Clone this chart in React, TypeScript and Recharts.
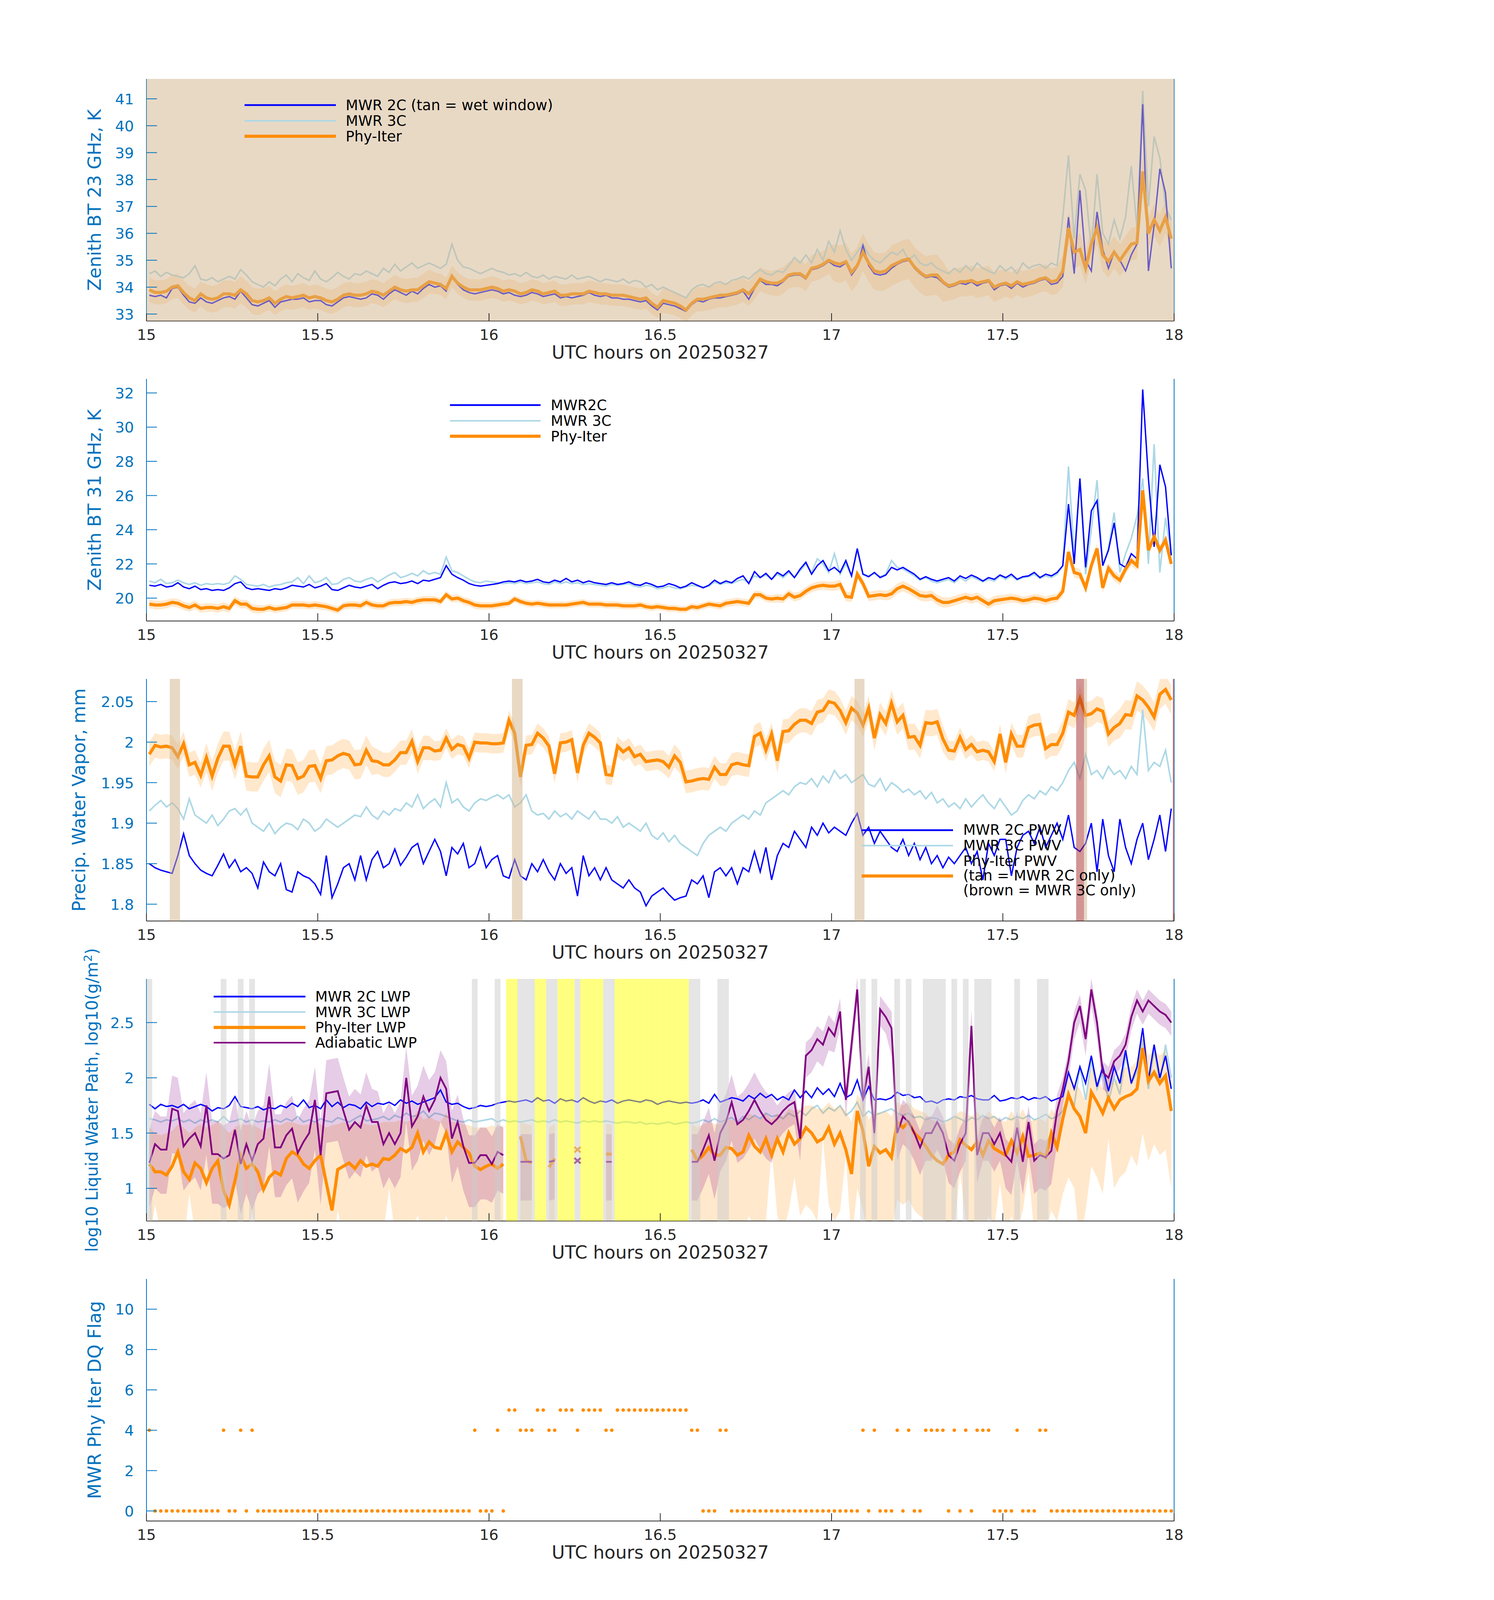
import React from 'react';
import { ComposedChart, Line, Area, XAxis, YAxis, ReferenceArea, ReferenceLine, Scatter } from 'recharts';

// ---------------- DATA (one value per minute, 15:00 .. 18:00 UTC) ----------------
const xTicks = [15, 15.5, 16, 16.5, 17, 17.5, 18];

// Panel 1: zenith BT 23 GHz (K)
const p1Ticks = [33, 34, 35, 36, 37, 38, 39, 40, 41];
const p1Phy = [
  33.9,33.8,33.8,33.85,34.0,34.05,33.8,33.6,33.5,33.75,
  33.6,33.55,33.6,33.75,33.75,33.7,33.9,33.75,33.5,33.45,
  33.5,33.6,33.4,33.55,33.65,33.6,33.65,33.7,33.6,33.65,
  33.6,33.5,33.45,33.55,33.7,33.75,33.7,33.7,33.75,33.85,
  33.8,33.7,33.85,34.0,33.9,33.85,33.9,33.9,34.05,34.2,
  34.15,34.1,33.95,34.4,34.15,34.0,33.9,33.9,33.9,33.95,
  34.0,33.95,33.85,33.9,33.85,33.75,33.8,33.9,33.85,33.75,
  33.8,33.85,33.7,33.7,33.75,33.75,33.75,33.85,33.8,33.75,
  33.75,33.7,33.7,33.7,33.65,33.6,33.55,33.6,33.4,33.25,
  33.5,33.45,33.4,33.3,33.15,33.4,33.55,33.55,33.6,33.65,
  33.7,33.7,33.75,33.8,33.9,33.75,34.0,34.3,34.2,34.15,
  34.15,34.25,34.45,34.5,34.5,34.35,34.7,34.75,34.85,35.0,
  34.9,34.85,34.95,34.55,34.8,35.3,34.9,34.6,34.55,34.6,
  34.8,34.9,35.0,35.05,34.75,34.55,34.4,34.45,34.45,34.2,
  34.05,34.1,34.2,34.2,34.25,34.15,34.2,34.25,34.0,34.1,
  34.15,34.05,34.2,34.1,34.15,34.2,34.3,34.35,34.2,34.25,
  34.6,36.2,35.3,35.4,34.7,35.6,36.2,35.2,34.95,35.3,
  35.0,35.3,35.6,35.65,38.3,36.0,36.5,36.1,36.6,35.8,
];
const p1M2 = [
  33.7,33.65,33.7,33.6,33.95,34.0,33.7,33.45,33.4,33.6,
  33.45,33.4,33.5,33.6,33.65,33.55,33.85,33.6,33.35,33.3,
  33.4,33.5,33.25,33.45,33.5,33.55,33.55,33.6,33.45,33.5,
  33.5,33.35,33.3,33.45,33.6,33.65,33.6,33.55,33.6,33.75,
  33.7,33.55,33.75,33.9,33.8,33.7,33.85,33.75,33.95,34.1,
  34.0,34.05,33.85,34.45,34.1,33.9,33.8,33.75,33.8,33.85,
  33.9,33.85,33.75,33.8,33.7,33.65,33.7,33.8,33.75,33.65,
  33.7,33.75,33.6,33.65,33.6,33.65,33.7,33.8,33.7,33.65,
  33.7,33.6,33.6,33.55,33.55,33.5,33.45,33.5,33.3,33.15,
  33.4,33.35,33.3,33.2,33.1,33.35,33.5,33.45,33.55,33.6,
  33.6,33.65,33.7,33.75,33.85,33.55,33.95,34.25,34.1,34.1,
  34.05,34.2,34.4,34.45,34.45,34.3,34.65,34.7,34.8,34.95,
  34.8,34.75,34.9,34.45,34.75,35.55,34.8,34.5,34.45,34.5,
  34.7,34.85,34.95,35.0,34.7,34.5,34.35,34.4,34.35,34.15,
  34.0,34.05,34.15,34.1,34.2,34.05,34.15,34.2,33.9,34.05,
  34.1,33.95,34.15,34.0,34.1,34.15,34.25,34.3,34.1,34.15,
  34.4,36.6,34.5,37.6,35.0,34.6,36.8,35.4,34.7,35.3,
  35.0,34.6,35.2,35.6,40.8,34.6,36.3,38.4,37.5,34.7,
];
const p1M3 = [
  34.5,34.6,34.4,34.55,34.45,34.4,34.35,34.5,34.8,34.3,
  34.25,34.35,34.2,34.3,34.4,34.3,34.65,34.45,34.2,34.1,
  34.0,34.2,34.05,34.3,34.45,34.2,34.5,34.35,34.25,34.6,
  34.3,34.2,34.35,34.55,34.4,34.3,34.5,34.45,34.6,34.5,
  34.4,34.7,34.55,34.85,34.6,34.75,34.9,34.7,34.8,34.9,
  34.8,34.7,34.85,35.6,35.0,34.75,34.7,34.6,34.5,34.6,
  34.7,34.6,34.55,34.45,34.5,34.4,34.55,34.4,34.35,34.45,
  34.3,34.4,34.35,34.3,34.45,34.3,34.35,34.4,34.3,34.2,
  34.3,34.25,34.2,34.3,34.15,34.25,34.2,34.0,34.1,33.9,
  34.0,33.9,33.8,33.7,33.6,33.9,34.05,34.1,34.0,34.15,
  34.2,34.1,34.25,34.3,34.4,34.3,34.5,34.65,34.5,34.45,
  34.6,34.55,34.8,35.1,34.9,35.2,34.9,35.4,35.0,35.7,
  35.3,36.1,35.4,35.0,35.3,35.6,35.2,35.0,34.9,35.1,
  35.3,35.2,35.4,35.0,35.2,34.9,34.8,34.9,34.7,34.6,
  34.5,34.7,34.55,34.8,34.6,34.9,34.7,34.6,34.5,34.8,
  34.6,34.75,34.5,34.9,34.7,34.8,34.85,34.7,34.9,34.8,
  36.6,38.9,35.8,38.2,37.6,35.4,38.2,36.0,35.6,36.5,
  35.8,36.6,38.5,36.2,41.3,37.0,39.6,38.8,37.0,36.5,
];
// Phy-Iter uncertainty, one value per 10 minutes
const p1Err = [0.45,0.5,0.45,0.45,0.45,0.4,0.4,0.4,0.4,0.45,0.45,0.5,0.7,0.75,0.55,0.5,0.6,0.6];

// Panel 2: zenith BT 31 GHz (K)
const p2Ticks = [20, 22, 24, 26, 28, 30, 32];
const p2Phy = [
  19.65,19.6,19.6,19.65,19.75,19.7,19.55,19.45,19.6,19.4,
  19.45,19.45,19.4,19.5,19.4,19.85,19.65,19.65,19.4,19.35,
  19.35,19.45,19.35,19.4,19.45,19.6,19.6,19.6,19.55,19.6,
  19.55,19.5,19.4,19.3,19.55,19.6,19.6,19.55,19.75,19.6,
  19.55,19.55,19.7,19.75,19.75,19.8,19.75,19.85,19.9,19.9,
  19.9,19.8,20.2,19.95,20.0,19.85,19.75,19.6,19.55,19.55,
  19.55,19.6,19.65,19.7,19.95,19.8,19.7,19.65,19.7,19.65,
  19.6,19.6,19.6,19.6,19.65,19.7,19.75,19.65,19.65,19.65,
  19.6,19.6,19.6,19.55,19.55,19.55,19.6,19.5,19.45,19.5,
  19.45,19.4,19.4,19.35,19.35,19.5,19.45,19.55,19.65,19.6,
  19.55,19.7,19.75,19.8,19.75,19.7,20.2,20.2,20.0,19.95,
  20.0,19.95,20.25,20.05,20.15,20.4,20.6,20.7,20.75,20.7,
  20.7,20.8,20.1,20.05,21.4,20.85,20.1,20.15,20.2,20.15,
  20.25,20.55,20.7,20.55,20.35,20.15,20.1,20.15,19.9,19.75,
  19.75,19.85,19.95,20.05,19.95,20.05,19.85,19.65,19.85,19.9,
  19.95,20.0,19.95,19.85,19.9,20.0,19.95,19.85,19.95,20.0,
  20.4,22.7,21.5,21.4,20.6,21.9,22.9,20.6,21.75,21.3,
  21.05,21.7,22.2,21.9,26.3,22.8,23.6,22.8,23.4,22.0,
];
const p2M2 = [
  20.75,20.7,20.8,20.65,20.7,20.9,20.65,20.55,20.7,20.5,
  20.55,20.45,20.5,20.45,20.6,20.85,20.95,20.6,20.5,20.55,
  20.5,20.45,20.55,20.5,20.6,20.75,20.7,20.65,20.8,20.6,
  20.7,20.85,20.5,20.45,20.6,20.75,20.65,20.6,20.7,20.8,
  20.55,20.75,20.9,20.95,20.85,20.9,21.0,20.85,21.05,21.0,
  21.1,21.2,21.9,21.4,21.2,21.05,20.85,20.75,20.7,20.75,
  20.8,20.85,20.95,21.0,20.95,21.05,20.95,21.0,21.1,20.95,
  20.9,21.05,20.95,21.15,20.95,21.05,20.9,21.0,20.9,20.85,
  20.8,20.9,20.8,20.85,20.95,20.8,20.75,20.9,20.8,20.65,
  20.7,20.85,20.75,20.6,20.7,20.9,20.75,20.6,20.75,21.05,
  20.85,21.0,20.9,21.15,21.3,20.85,21.55,21.2,21.45,21.1,
  21.5,21.3,21.6,21.2,21.7,22.1,21.4,21.9,22.2,21.6,
  21.8,21.5,22.2,21.3,22.9,21.4,21.25,21.5,21.2,21.35,
  21.8,21.65,21.8,21.6,21.4,21.1,21.25,21.1,21.0,21.1,
  21.2,21.0,21.3,21.15,21.35,21.2,21.0,21.2,21.1,21.35,
  21.2,21.4,21.1,21.25,21.3,21.5,21.2,21.4,21.3,21.5,
  21.9,25.5,22.0,27.0,21.8,25.1,25.7,21.9,22.8,24.4,
  22.0,21.8,22.6,22.3,32.2,27.0,23.0,27.8,26.5,22.5,
];
const p2M3 = [
  21.0,20.9,21.1,20.85,20.9,21.05,20.9,20.8,20.9,20.75,
  20.85,20.8,20.85,20.8,20.9,21.3,21.1,20.8,20.75,20.7,
  20.8,20.65,20.75,20.8,20.9,20.95,21.2,20.85,21.3,20.9,
  21.0,21.2,20.8,20.85,21.1,21.2,21.0,20.95,21.1,21.2,
  20.95,21.15,21.35,21.5,21.2,21.3,21.45,21.3,21.6,21.4,
  21.5,21.4,22.4,21.6,21.5,21.3,21.1,20.95,20.9,21.0,
  20.95,20.9,20.85,20.9,20.85,20.95,20.85,20.9,20.95,20.85,
  20.8,20.95,20.85,20.95,20.85,20.9,20.8,20.85,20.8,20.75,
  20.7,20.8,20.75,20.8,20.85,20.7,20.65,20.75,20.7,20.55,
  20.6,20.7,20.6,20.55,20.65,20.75,20.7,20.65,20.7,20.95,
  20.8,20.9,20.85,21.0,21.1,20.9,21.3,21.2,21.35,21.1,
  21.4,21.2,21.5,21.2,21.6,22.0,21.5,22.3,22.0,21.5,
  22.6,21.4,22.0,21.3,22.8,21.4,21.3,21.45,21.25,21.4,
  22.2,21.8,21.7,21.5,21.3,21.05,21.2,21.0,20.9,21.0,
  21.1,20.9,21.2,21.0,21.25,21.1,20.95,21.1,21.0,21.3,
  21.1,21.3,21.05,21.2,21.25,21.4,21.15,21.3,21.2,21.4,
  21.9,27.7,22.5,26.9,21.4,24.0,26.9,21.9,22.9,25.0,
  21.5,22.6,23.5,24.8,27.0,22.0,29.0,21.5,24.7,22.5,
];
const p2Err = [0.25,0.25,0.22,0.22,0.22,0.22,0.2,0.2,0.2,0.2,0.22,0.25,0.28,0.3,0.28,0.25,0.3,0.3];

// Panel 3: precipitable water vapour (mm)
const p3Ticks = [1.8, 1.85, 1.9, 1.95, 2, 2.05];
const p3Phy = [
  1.985,1.996,1.994,1.995,1.993,1.982,1.998,1.972,1.975,1.959,
  1.981,1.958,1.98,1.995,1.995,1.972,1.995,1.958,1.957,1.957,
  1.972,1.983,1.957,1.952,1.972,1.971,1.955,1.958,1.97,1.971,
  1.955,1.977,1.978,1.983,1.986,1.984,1.972,1.973,1.99,1.977,
  1.976,1.972,1.972,1.978,1.987,1.987,2.001,1.976,1.993,1.993,
  1.989,1.99,2.005,1.991,1.997,1.995,1.98,2.0,1.999,1.999,
  1.998,1.998,1.999,2.027,2.011,1.957,1.996,1.997,2.011,2.005,
  1.995,1.961,1.999,2.0,2.003,1.962,1.996,2.011,2.006,1.999,
  1.96,1.959,1.995,1.988,1.993,1.982,1.985,1.976,1.977,1.978,
  1.976,1.969,1.983,1.975,1.951,1.952,1.954,1.955,1.954,1.969,
  1.96,1.96,1.972,1.974,1.972,1.971,2.007,2.011,1.99,2.01,
  1.977,2.013,2.014,2.022,2.027,2.027,2.023,2.037,2.039,2.05,
  2.048,2.039,2.024,2.042,2.036,2.021,2.042,2.005,2.034,2.023,
  2.048,2.025,2.033,2.006,2.007,1.996,2.024,2.023,2.025,2.004,
  1.99,1.989,2.006,1.991,1.997,1.988,1.99,1.988,1.976,2.01,
  1.975,2.01,1.995,1.995,2.018,2.021,2.022,1.992,1.997,1.997,
  2.011,2.037,2.033,2.054,2.033,2.035,2.041,2.038,2.01,2.018,
  2.023,2.034,2.033,2.057,2.052,2.043,2.031,2.059,2.065,2.052,
];
const p3M2 = [
  1.85,1.845,1.842,1.84,1.838,1.86,1.887,1.86,1.85,1.842,
  1.838,1.835,1.848,1.862,1.845,1.855,1.84,1.845,1.838,1.82,
  1.852,1.84,1.835,1.85,1.818,1.815,1.84,1.835,1.832,1.825,
  1.812,1.86,1.808,1.825,1.845,1.85,1.83,1.86,1.83,1.855,
  1.865,1.845,1.85,1.868,1.848,1.858,1.87,1.875,1.85,1.865,
  1.88,1.865,1.835,1.87,1.862,1.875,1.845,1.85,1.87,1.845,
  1.855,1.86,1.835,1.832,1.855,1.835,1.83,1.85,1.84,1.855,
  1.84,1.83,1.85,1.838,1.845,1.81,1.86,1.835,1.845,1.83,
  1.845,1.83,1.825,1.82,1.83,1.82,1.815,1.798,1.81,1.815,
  1.82,1.812,1.805,1.808,1.81,1.83,1.825,1.835,1.808,1.84,
  1.845,1.835,1.845,1.825,1.845,1.84,1.865,1.84,1.87,1.83,
  1.86,1.875,1.87,1.89,1.88,1.87,1.895,1.885,1.9,1.888,
  1.895,1.89,1.885,1.9,1.912,1.885,1.895,1.875,1.89,1.88,
  1.87,1.865,1.88,1.86,1.875,1.855,1.87,1.85,1.86,1.845,
  1.858,1.85,1.86,1.87,1.85,1.865,1.83,1.875,1.86,1.88,
  1.88,1.835,1.87,1.885,1.89,1.875,1.895,1.87,1.885,1.9,
  1.88,1.91,1.87,1.865,1.875,1.9,1.84,1.905,1.86,1.84,
  1.905,1.87,1.85,1.88,1.9,1.855,1.88,1.91,1.865,1.918,
];
const p3M3 = [
  1.915,1.922,1.928,1.92,1.925,1.918,1.905,1.93,1.91,1.905,
  1.9,1.91,1.897,1.905,1.915,1.918,1.91,1.918,1.9,1.895,
  1.89,1.9,1.887,1.895,1.9,1.898,1.892,1.905,1.9,1.89,
  1.895,1.905,1.9,1.895,1.9,1.905,1.91,1.908,1.92,1.91,
  1.905,1.915,1.91,1.918,1.915,1.925,1.92,1.935,1.918,1.925,
  1.93,1.92,1.95,1.925,1.93,1.92,1.915,1.925,1.93,1.928,
  1.932,1.935,1.93,1.935,1.92,1.925,1.935,1.915,1.91,1.912,
  1.905,1.915,1.908,1.912,1.905,1.915,1.91,1.905,1.915,1.905,
  1.905,1.9,1.908,1.895,1.9,1.895,1.89,1.9,1.885,1.88,
  1.888,1.877,1.885,1.875,1.87,1.865,1.86,1.875,1.885,1.89,
  1.895,1.89,1.9,1.905,1.91,1.905,1.915,1.91,1.925,1.93,
  1.935,1.94,1.935,1.945,1.95,1.948,1.955,1.945,1.958,1.95,
  1.965,1.955,1.96,1.95,1.955,1.96,1.948,1.945,1.955,1.94,
  1.95,1.945,1.938,1.942,1.935,1.94,1.93,1.938,1.925,1.93,
  1.92,1.925,1.918,1.93,1.92,1.928,1.935,1.925,1.918,1.93,
  1.92,1.91,1.915,1.928,1.935,1.93,1.94,1.935,1.945,1.94,
  1.95,1.965,1.975,1.955,1.985,1.96,1.965,1.955,1.97,1.96,
  1.965,1.955,1.97,1.96,2.04,1.965,1.975,1.97,1.99,1.95,
];
const p3Err = [0.015,0.018,0.02,0.018,0.015,0.012,0.012,0.012,0.012,0.014,0.014,0.015,0.015,0.016,0.012,0.014,0.016,0.018];
// PWV source windows (hours)
const tanStart = [15.068, 16.067, 17.067, 17.737];
const tanEnd = [15.098, 16.098, 17.096, 17.746];
const brownStart = [17.714, 17.996];
const brownEnd = [17.737, 18.0];

// Panel 4: log10 LWP
const p4Ticks = [1, 1.5, 2, 2.5];
const p4M2 = [
  1.76,1.72,1.76,1.74,1.75,1.73,1.76,1.72,1.74,1.76,
  1.74,1.7,1.73,1.72,1.75,1.83,1.74,1.73,1.72,1.74,
  1.71,1.73,1.72,1.75,1.73,1.77,1.74,1.8,1.73,1.75,
  1.72,1.8,1.74,1.78,1.73,1.76,1.75,1.72,1.78,1.74,
  1.77,1.76,1.78,1.75,1.8,1.77,1.79,1.76,1.78,1.8,
  1.82,1.89,1.78,1.76,1.77,1.74,1.72,1.73,1.75,1.74,
  1.75,1.77,1.78,1.79,1.78,1.79,1.8,1.78,1.82,1.79,
  1.8,1.77,1.81,1.79,1.8,1.78,1.82,1.79,1.77,1.79,
  1.78,1.8,1.77,1.79,1.8,1.79,1.78,1.8,1.79,1.76,
  1.78,1.79,1.78,1.77,1.78,1.77,1.78,1.8,1.77,1.85,
  1.78,1.8,1.82,1.81,1.79,1.84,1.81,1.86,1.82,1.85,
  1.8,1.83,1.8,1.89,1.82,1.88,1.82,1.91,1.85,1.9,
  1.83,1.95,1.82,1.85,1.98,1.8,1.92,1.8,1.81,1.8,
  1.82,1.87,1.84,1.85,1.82,1.83,1.78,1.79,1.77,1.8,
  1.81,1.8,1.83,1.82,1.84,1.81,1.8,1.8,1.84,1.79,
  1.8,1.82,1.81,1.83,1.8,1.82,1.81,1.83,1.79,1.81,
  1.83,2.05,1.9,2.1,1.95,2.2,1.92,2.1,1.88,2.1,
  1.95,2.25,1.95,2.1,2.45,1.98,2.3,2.0,2.2,1.9,
];
const p4M3 = [
  1.63,1.62,1.6,1.62,1.61,1.63,1.6,1.62,1.59,1.62,
  1.6,1.62,1.6,1.65,1.6,1.61,1.63,1.6,1.62,1.6,
  1.61,1.6,1.62,1.6,1.63,1.61,1.65,1.6,1.62,1.6,
  1.63,1.61,1.6,1.64,1.62,1.6,1.63,1.66,1.61,1.62,
  1.63,1.65,1.62,1.66,1.64,1.68,1.65,1.66,1.7,1.64,
  1.68,1.67,1.65,1.63,1.61,1.6,1.62,1.6,1.61,1.62,
  1.63,1.6,1.62,1.6,1.61,1.6,1.61,1.62,1.6,1.61,
  1.6,1.62,1.6,1.61,1.6,1.59,1.61,1.6,1.61,1.6,
  1.61,1.6,1.59,1.6,1.6,1.59,1.6,1.58,1.59,1.58,
  1.59,1.6,1.58,1.59,1.6,1.59,1.6,1.62,1.6,1.63,
  1.6,1.62,1.64,1.6,1.65,1.62,1.66,1.63,1.68,1.65,
  1.66,1.63,1.68,1.65,1.7,1.66,1.72,1.75,1.68,1.73,
  1.7,1.75,1.66,1.7,1.78,1.65,1.7,1.66,1.68,1.7,
  1.72,1.68,1.66,1.68,1.64,1.65,1.62,1.64,1.63,1.6,
  1.62,1.65,1.63,1.6,1.64,1.62,1.66,1.63,1.65,1.61,
  1.64,1.62,1.65,1.63,1.66,1.62,1.64,1.67,1.63,1.65,
  1.7,1.85,1.75,2.1,1.8,2.15,1.9,2.05,1.78,2.0,
  1.85,2.2,1.95,2.05,2.35,1.9,2.25,1.95,2.3,2.0,
];
const p4Phy = [
  1.22,1.15,1.15,1.12,1.2,1.33,1.15,1.08,1.23,1.18,
  1.05,1.18,1.25,0.98,0.85,1.07,1.3,1.18,1.22,1.15,
  0.99,1.1,1.15,1.12,1.27,1.33,1.3,1.22,1.18,1.25,
  1.3,1.05,0.8,1.17,1.2,1.23,1.18,1.25,1.2,1.22,
  1.2,1.27,1.26,1.3,1.36,1.33,1.37,1.5,1.33,1.42,
  1.37,1.36,1.5,1.33,1.42,1.37,1.32,1.2,1.17,1.2,
  1.22,1.18,1.22,null,null,1.47,1.25,1.23,null,null,
  1.19,1.27,null,null,null,1.35,null,null,null,null,
  1.31,1.31,null,null,null,null,null,null,null,null,
  null,null,null,null,null,1.35,1.25,1.3,1.37,1.3,
  1.3,1.37,1.36,1.3,1.33,1.48,1.38,1.33,1.45,1.3,
  1.45,1.33,1.5,1.4,1.45,1.55,1.5,1.42,1.45,1.55,
  1.4,1.5,1.35,1.13,1.7,1.52,1.2,1.38,1.32,1.35,
  1.28,1.6,1.55,1.6,1.5,1.45,1.38,1.3,1.25,1.22,
  1.3,1.33,1.44,1.39,1.35,1.42,1.3,1.43,1.36,1.33,
  1.3,1.43,1.32,1.47,1.29,1.3,1.32,1.28,1.5,1.37,
  1.63,1.85,1.72,1.65,1.5,1.87,1.78,1.68,1.82,1.72,
  1.8,1.83,1.85,1.9,2.27,1.97,2.05,1.95,2.02,1.7,
];
const p4PhyHi = [
  1.55,1.5,1.48,1.5,1.52,1.58,1.55,1.5,1.55,1.58,
  1.55,1.57,1.6,1.55,1.5,1.55,1.58,1.57,1.58,1.55,
  1.52,1.55,1.58,1.57,1.6,1.6,1.58,1.57,1.58,1.6,
  1.58,1.55,1.57,1.58,1.6,1.58,1.58,1.6,1.58,1.57,
  1.58,1.6,1.6,1.6,1.62,1.6,1.62,1.7,1.62,1.65,
  1.62,1.6,1.68,1.6,1.6,1.58,1.57,1.55,1.55,1.55,
  1.57,1.55,1.57,null,null,1.6,1.58,1.57,null,null,
  1.55,1.58,null,null,null,1.6,null,null,null,null,
  1.58,1.58,null,null,null,null,null,null,null,null,
  null,null,null,null,null,1.58,1.55,1.58,1.6,1.58,
  1.58,1.62,1.62,1.6,1.62,1.68,1.65,1.62,1.68,1.62,
  1.68,1.65,1.72,1.7,1.72,1.75,1.75,1.72,1.72,1.78,
  1.72,1.75,1.7,1.6,1.85,1.78,1.62,1.7,1.68,1.7,
  1.65,1.78,1.75,1.78,1.72,1.7,1.68,1.62,1.6,1.58,
  1.62,1.65,1.7,1.68,1.65,1.7,1.62,1.7,1.65,1.62,
  1.6,1.7,1.62,1.72,1.6,1.62,1.63,1.6,1.72,1.65,
  1.85,2.05,1.95,1.9,1.78,2.1,2.0,1.9,2.05,1.95,
  2.05,2.1,2.1,2.15,2.4,2.2,2.25,2.2,2.25,2.0,
];
const p4PhyLo = [
  0.5,0.85,0.6,0.5,0.55,0.6,0.5,0.95,0.6,0.5,
  0.5,0.6,0.55,0.5,0.4,0.5,0.6,0.55,0.8,0.5,
  0.5,0.55,0.6,0.55,0.6,0.65,0.6,0.55,0.5,0.6,
  0.6,0.55,0.4,0.8,0.55,0.6,0.55,0.6,0.55,0.6,
  0.55,0.6,1.0,0.6,0.65,0.6,0.65,0.75,0.6,0.7,
  0.65,0.6,0.75,0.6,0.7,0.65,0.6,0.55,0.5,0.55,
  0.55,0.5,0.55,null,null,0.7,0.5,0.5,null,null,
  0.5,0.55,null,null,null,0.6,null,null,null,null,
  0.6,0.6,null,null,null,null,null,null,null,null,
  null,null,null,null,null,0.6,0.55,0.6,0.65,0.6,
  0.6,0.65,0.65,0.6,0.6,0.75,0.65,0.6,0.7,1.35,
  0.75,0.6,0.8,1.1,0.75,0.85,0.8,0.7,1.45,0.85,
  0.7,0.8,1.3,0.5,1.0,0.8,0.55,0.7,0.65,0.65,
  0.6,0.9,0.85,0.9,0.8,0.75,0.7,0.65,0.6,0.55,
  0.6,0.65,1.15,0.7,0.65,0.7,0.6,0.75,0.65,1.05,
  0.6,0.75,0.6,0.8,1.15,0.6,0.65,0.6,0.8,0.7,
  0.95,1.1,1.0,0.5,0.8,1.2,1.1,0.95,1.45,1.0,
  1.1,1.15,1.3,1.2,1.5,1.25,1.4,1.3,1.35,1.0,
];
const p4Adi = [
  1.23,1.4,1.35,1.35,1.72,1.7,1.38,1.45,1.5,1.38,
  1.75,1.31,1.31,1.27,1.3,1.53,1.22,1.4,1.25,1.4,
  1.45,1.83,1.37,1.37,1.48,1.54,1.32,1.42,1.5,1.8,
  1.3,1.86,1.87,1.88,1.7,1.53,1.6,1.55,1.75,1.6,
  1.6,1.4,1.5,1.4,1.5,2.0,1.56,1.65,1.83,1.7,
  1.8,2.0,1.9,1.45,1.6,1.38,1.23,1.23,1.3,1.3,
  1.22,1.33,1.3,null,null,1.24,1.24,1.24,null,null,
  1.24,1.25,null,null,null,1.25,null,null,null,null,
  1.24,1.24,null,null,null,null,null,null,null,null,
  null,null,null,null,null,1.24,1.24,1.35,1.48,1.25,
  1.5,1.6,1.78,1.58,1.62,1.7,1.8,1.7,1.62,1.58,
  1.63,1.7,1.75,1.78,1.45,2.2,2.25,2.35,2.3,2.45,
  2.38,2.6,1.8,2.3,2.8,1.8,2.1,1.5,2.62,2.55,
  2.45,1.5,1.65,1.6,1.5,1.37,1.5,1.5,1.6,1.5,
  1.3,1.25,1.4,1.5,2.47,1.3,1.5,1.5,1.4,1.5,
  1.3,1.24,1.55,1.24,1.6,1.25,1.3,1.28,1.34,1.7,
  1.9,2.15,2.5,2.65,2.35,2.8,2.5,2.05,2.0,2.15,
  2.2,2.3,2.55,2.7,2.6,2.7,2.65,2.6,2.57,2.5,
];
// adiabatic LWP uncertainty (upper / lower), one value per 10 minutes
const p4AdiHiErr = [0.3,0.3,0.3,0.3,0.28,0.25,0.25,0.25,0.25,0.25,0.25,0.12,0.12,0.15,0.15,0.15,0.1,0.1];
const p4AdiLoErr = [0.4,0.45,0.45,0.45,0.4,0.4,0.35,0.35,0.35,0.35,0.35,0.2,0.15,0.25,0.25,0.3,0.15,0.12];

// Panel 5: Phy-Iter DQ flag, one per minute
const p5Ticks = [0, 2, 4, 6, 8, 10];
const dqFlag = [
  4,0,0,0,0,0,0,0,0,0,
  0,0,0,4,0,0,4,0,4,0,
  0,0,0,0,0,0,0,0,0,0,
  0,0,0,0,0,0,0,0,0,0,
  0,0,0,0,0,0,0,0,0,0,
  0,0,0,0,0,0,0,4,0,0,
  0,4,0,5,5,4,4,4,5,5,
  4,4,5,5,5,4,5,5,5,5,
  4,4,5,5,5,5,5,5,5,5,
  5,5,5,5,5,4,4,0,0,0,
  4,4,0,0,0,0,0,0,0,0,
  0,0,0,0,0,0,0,0,0,0,
  0,0,0,0,0,4,0,4,0,0,
  0,4,0,4,0,0,4,4,4,4,
  0,4,0,4,0,4,4,4,0,0,
  0,0,4,0,0,0,4,4,0,0,
  0,0,0,0,0,0,0,0,0,0,
  0,0,0,0,0,0,0,0,0,0,
];

// Text
const xLabel = 'UTC hours on 20250327';
const yLabels = ['Zenith BT 23 GHz, K', 'Zenith BT 31 GHz, K', 'Precip. Water Vapor, mm', 'log10 Liquid Water Path, log10(g/m', 'MWR Phy Iter DQ Flag'];
const leg1 = ['MWR 2C (tan = wet window)', 'MWR 3C', 'Phy-Iter'];
const leg2 = ['MWR2C', 'MWR 3C', 'Phy-Iter'];
const leg3 = ['MWR 2C PWV', 'MWR 3C PWV', 'Phy-Iter PWV', '(tan = MWR 2C only)', '(brown = MWR 3C only)'];
const leg4 = ['MWR 2C LWP', 'MWR 3C LWP', 'Phy-Iter LWP', 'Adiabatic LWP'];

// ---------------- STYLE / LAYOUT ----------------
const FONT = 'DejaVu Sans';
const AXBLUE = '#0072BD';
const DARK = '#262626';
const C2 = '#0000FF';
const C3 = '#ADD8E6';
const CP = '#FF8C00';
const CA = '#800080';

// The browser viewport is 4096 px tall: the 6000 px tall reference layout is mapped onto it vertically.
const W = 3825;
const H = 4096;
const S = H / 6000;
const PL = 375;
const PR = 3006;
const PH = 908 * S;
const TOPS = [296, 1421, 2546, 3671, 4796].map((v) => v * S);
const PAD_T = 100;
const PAD_B = 200;
const XH = 60;
const YW = 100;
const CH = PAD_T + PH + PAD_B;

const tOf = (k: number) => 15 + (k + 0.5) / 60;
const blk = (k: number) => Math.floor(k / 10);

const rows123 = (phy: number[], m2: number[], m3: number[], err: number[]) =>
  phy.map((v, k) => ({ t: tOf(k), phy: v, m2: m2[k], m3: m3[k], band: [v - err[blk(k)], v + err[blk(k)]] }));

const d1 = rows123(p1Phy, p1M2, p1M3, p1Err);
const d2 = rows123(p2Phy, p2M2, p2M3, p2Err);
const d3 = rows123(p3Phy, p3M2, p3M3, p3Err);
const d4 = p4Phy.map((v, k) => ({
  t: tOf(k),
  m2: p4M2[k],
  m3: p4M3[k],
  phy: v,
  phyBand: p4PhyLo[k] == null ? null : [p4PhyLo[k], p4PhyHi[k]],
  adi: p4Adi[k],
  adiBand: p4Adi[k] == null ? null : [(p4Adi[k] as number) - p4AdiLoErr[blk(k)], (p4Adi[k] as number) + p4AdiHiErr[blk(k)]],
}));
const isolated = (arr: (number | null)[]) =>
  arr.map((v, k) => ({ t: tOf(k), v })).filter((p, k) => p.v != null && arr[k - 1] == null && arr[k + 1] == null && k > 0);
const isoPhy = isolated(p4Phy);
const isoAdi = isolated(p4Adi);
const d5 = dqFlag.map((f, k) => ({ t: tOf(k), flag: f }));

const XTick = (p: any) => {
  const { x, y, payload } = p;
  return (
    <g>
      <line x1={x} x2={x} y1={y} y2={y - 20} stroke={DARK} strokeWidth={2} />
      <text x={x} y={y + 48} textAnchor="middle" fontSize={38} fontFamily={FONT} fill={DARK}>{String(payload.value)}</text>
    </g>
  );
};
const YTick = (p: any) => {
  const { x, y, payload } = p;
  return (
    <g>
      <line x1={x} x2={x + 27} y1={y} y2={y} stroke={AXBLUE} strokeWidth={2} />
      <text x={x - 32} y={y + 14} textAnchor="end" fontSize={38} fontFamily={FONT} fill={AXBLUE}>{String(payload.value)}</text>
    </g>
  );
};

const crossShape = (color: string) => (p: any) => (
  <g stroke={color} strokeWidth={5}>
    <line x1={p.cx - 8} y1={p.cy - 7} x2={p.cx + 8} y2={p.cy + 7} />
    <line x1={p.cx - 8} y1={p.cy + 7} x2={p.cx + 8} y2={p.cy - 7} />
  </g>
);

function Panel(props: { idx: number; domain: number[]; ticks: number[]; data: any[]; children: any }) {
  const { idx, domain, ticks, data, children } = props;
  return (
    <div style={{ position: 'absolute', left: 0, top: TOPS[idx] - PAD_T, width: W, height: CH }}>
      <ComposedChart
        width={W}
        height={CH}
        data={data}
        margin={{ top: PAD_T, right: W - PR, bottom: PAD_B - XH, left: PL - YW }}
        style={{ fontFamily: FONT }}
      >
        <XAxis dataKey="t" type="number" domain={[15, 18]} ticks={xTicks} allowDataOverflow height={XH}
          tickSize={0} tickMargin={0} tickLine={false} interval={0}
          axisLine={{ stroke: DARK, strokeWidth: 2 }} tick={(p: any) => <XTick {...p} />} />
        <YAxis type="number" domain={domain} ticks={ticks} allowDataOverflow width={YW}
          tickSize={0} tickMargin={0} tickLine={false} interval={0}
          axisLine={{ stroke: AXBLUE, strokeWidth: 2 }} tick={(p: any) => <YTick {...p} />} />
        {children}
        <ReferenceLine x={18} stroke={AXBLUE} strokeWidth={2} />
      </ComposedChart>
    </div>
  );
}

const lineProps = { type: 'linear' as const, dot: false, activeDot: false, isAnimationActive: false, connectNulls: false };

function btSeries() {
  return [
    <Area key="band" dataKey="band" {...lineProps} stroke="none" fill={CP} fillOpacity={0.2} />,
    <Line key="m3" dataKey="m3" {...lineProps} stroke={C3} strokeWidth={4} />,
    <Line key="m2" dataKey="m2" {...lineProps} stroke={C2} strokeWidth={3.5} />,
    <Line key="phy" dataKey="phy" {...lineProps} stroke={CP} strokeWidth={8} />,
  ];
}

function Legend(props: { x1: number; x2: number; tx: number; lines: { y: number; color: string; w: number }[]; texts: { y: number; s: string }[] }) {
  return (
    <g>
      {props.lines.map((l, i) => (
        <line key={'l' + i} x1={props.x1} x2={props.x2} y1={l.y * S} y2={l.y * S} stroke={l.color} strokeWidth={l.w} />
      ))}
      {props.texts.map((t, i) => (
        <text key={'t' + i} x={props.tx} y={t.y * S + 13} fontSize={37} fontFamily={FONT} fill="#000">{t.s}</text>
      ))}
    </g>
  );
}

export default function App() {
  const ylX = [258, 258, 218, 250, 258];
  return (
    <div style={{ position: 'relative', left: -8, top: -8, width: W, height: H, background: '#fff', fontFamily: FONT, overflow: 'hidden' }}>
      <Panel idx={0} domain={[32.74, 41.74]} ticks={p1Ticks} data={d1}>
        {btSeries()}
        <ReferenceArea x1={15} x2={18} fill="rgb(210,180,140)" fillOpacity={0.5} stroke="none" ifOverflow="hidden" zIndex={650} isFront />
      </Panel>
      <Panel idx={1} domain={[18.66, 32.82]} ticks={p2Ticks} data={d2}>
        {btSeries()}
      </Panel>
      <Panel idx={2} domain={[1.7792, 2.078]} ticks={p3Ticks} data={d3}>
        {btSeries()}
        {tanStart.map((s, i) => (
          <ReferenceArea key={'tan' + i} x1={s} x2={tanEnd[i]} fill="rgb(210,180,140)" fillOpacity={0.5} stroke="none" ifOverflow="hidden" zIndex={650} isFront />
        ))}
        {brownStart.map((s, i) => (
          <ReferenceArea key={'br' + i} x1={s} x2={brownEnd[i]} fill="rgb(165,42,42)" fillOpacity={0.5} stroke="none" ifOverflow="hidden" zIndex={650} isFront />
        ))}
      </Panel>
      <Panel idx={3} domain={[0.704, 2.895]} ticks={p4Ticks} data={d4}>
        <Line dataKey="m3" {...lineProps} stroke={C3} strokeWidth={4} zIndex={50} />
        <Area dataKey="phyBand" {...lineProps} stroke="none" fill={CP} fillOpacity={0.2} />
        <Area dataKey="adiBand" {...lineProps} stroke="none" fill={CA} fillOpacity={0.2} />
        <Line dataKey="m2" {...lineProps} stroke={C2} strokeWidth={3.5} />
        <Line dataKey="phy" {...lineProps} stroke={CP} strokeWidth={8} />
        <Line dataKey="adi" {...lineProps} stroke={CA} strokeWidth={4.5} />
        <Scatter data={isoPhy} dataKey="v" isAnimationActive={false} shape={crossShape(CP)} />
        <Scatter data={isoAdi} dataKey="v" isAnimationActive={false} shape={crossShape(CA)} />
        {dqFlag.map((f, k) =>
          f === 4 || f === 5 ? (
            <ReferenceArea key={'f' + k} x1={15 + k / 60} x2={15 + (k + 1) / 60}
              fill={f === 5 ? 'rgb(255,255,0)' : 'rgb(204,204,204)'} fillOpacity={0.5} stroke="none" ifOverflow="hidden" zIndex={650} isFront />
          ) : null
        )}
      </Panel>
      <Panel idx={4} domain={[-0.5, 11.5]} ticks={p5Ticks} data={d5}>
        <Scatter dataKey="flag" isAnimationActive={false} fill={CP}
          shape={(p: any) => <circle cx={p.cx} cy={p.cy} r={4.5} fill={CP} />} />
      </Panel>

      <svg width={W} height={H} style={{ position: 'absolute', left: 0, top: 0, pointerEvents: 'none' }} fontFamily={FONT}>
        {TOPS.map((top, i) => (
          <text key={'xl' + i} x={(PL + PR) / 2} y={top + PH + 96} textAnchor="middle" fontSize={46} fill={DARK}>{xLabel}</text>
        ))}
        {TOPS.map((top, i) => (
          <text key={'yl' + i} transform={`translate(${ylX[i]},${top + PH / 2}) rotate(-90)`} textAnchor="middle" fontSize={i === 3 ? 42 : 46} fill={AXBLUE}>
            {yLabels[i]}
            {i === 3 ? <tspan dy={-15} fontSize={29}>2</tspan> : null}
            {i === 3 ? <tspan dy={15}>)</tspan> : null}
          </text>
        ))}
        <Legend x1={626} x2={860} tx={885}
          lines={[{ y: 394, color: C2, w: 4.5 }, { y: 453, color: C3, w: 4 }, { y: 511, color: CP, w: 8 }]}
          texts={[{ y: 394, s: leg1[0] }, { y: 453, s: leg1[1] }, { y: 511, s: leg1[2] }]} />
        <Legend x1={1152} x2={1384} tx={1410}
          lines={[{ y: 1519, color: C2, w: 4.5 }, { y: 1578, color: C3, w: 4 }, { y: 1636, color: CP, w: 8 }]}
          texts={[{ y: 1519, s: leg2[0] }, { y: 1578, s: leg2[1] }, { y: 1636, s: leg2[2] }]} />
        <Legend x1={2206} x2={2440} tx={2466}
          lines={[{ y: 3113, color: C2, w: 4.5 }, { y: 3171, color: C3, w: 4 }, { y: 3285, color: CP, w: 8 }]}
          texts={[{ y: 3111, s: leg3[0] }, { y: 3170, s: leg3[1] }, { y: 3228, s: leg3[2] }, { y: 3283, s: leg3[3] }, { y: 3338, s: leg3[4] }]} />
        <Legend x1={547} x2={782} tx={807}
          lines={[{ y: 3737, color: C2, w: 4.5 }, { y: 3795, color: C3, w: 4 }, { y: 3853, color: CP, w: 8 }, { y: 3910, color: CA, w: 4 }]}
          texts={[{ y: 3737, s: leg4[0] }, { y: 3795, s: leg4[1] }, { y: 3853, s: leg4[2] }, { y: 3910, s: leg4[3] }]} />
      </svg>
    </div>
  );
}
